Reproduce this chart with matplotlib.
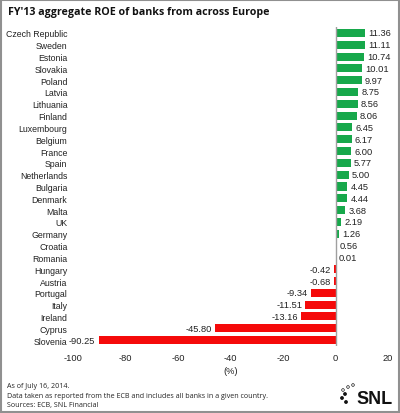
import matplotlib
matplotlib.use("Agg")
import matplotlib.pyplot as plt
from matplotlib.patches import Rectangle, Circle

countries = ["Czech Republic", "Sweden", "Estonia", "Slovakia", "Poland", "Latvia",
             "Lithuania", "Finland", "Luxembourg", "Belgium", "France", "Spain",
             "Netherlands", "Bulgaria", "Denmark", "Malta", "UK", "Germany",
             "Croatia", "Romania", "Hungary", "Austria", "Portugal", "Italy",
             "Ireland", "Cyprus", "Slovenia"]
roe = [11.36, 11.11, 10.74, 10.01, 9.97, 8.75, 8.56, 8.06, 6.45, 6.17, 6.00, 5.77,
       5.00, 4.45, 4.44, 3.68, 2.19, 1.26, 0.56, 0.01, -0.42, -0.68, -9.34, -11.51,
       -13.16, -45.80, -90.25]
x_ticks = [-100, -80, -60, -40, -20, 0, 20]

green = "#17a84b"
red = "#f50a0a"

plt.rcParams["font.family"] = ["Liberation Sans", "DejaVu Sans"]

fig = plt.figure(figsize=(4.0, 4.14), dpi=100)
ax = fig.add_axes([73 / 400, 1 - 347 / 414, (388 - 73) / 400, (347 - 28) / 414])

n = len(countries)
ypos = [n - 1 - i for i in range(n)]
colors = [green if v >= 0 else red for v in roe]
ax.barh(ypos, roe, height=0.68, color=colors, zorder=2)
ax.axvline(0, color="#a0a0a0", lw=1, zorder=3)

# value labels at the bar ends
for y, v in zip(ypos, roe):
    if v >= 0:
        ax.text(v + 1.2, y, f"{v:.2f}", va="center", ha="left", fontsize=6.7, color="#222222")
    else:
        ax.text(v - 1.2, y, f"{v:.2f}", va="center", ha="right", fontsize=6.7, color="#222222")

ax.set_xlim(-100, 20)
ax.set_ylim(-0.5, n - 0.5)
ax.set_yticks(ypos)
ax.set_yticklabels(countries, fontsize=6.3, color="#222222")
ax.set_xticks(x_ticks)
ax.set_xticklabels([str(t) for t in x_ticks], fontsize=6.7, color="#222222")
ax.tick_params(axis="both", length=0)
ax.tick_params(axis="y", pad=4)
ax.tick_params(axis="x", pad=5)
for s in ax.spines.values():
    s.set_visible(False)
ax.set_xlabel("(%)", fontsize=6.7, color="#222222", labelpad=3)

fig.text(8 / 400, 1 - 13 / 414, "FY'13 aggregate ROE of banks from across Europe",
         fontsize=7.7, fontweight="bold", family="Open Sans", va="center", ha="left",
         color="#111111")

notes = ["As of July 16, 2014.",
         "Data taken as reported from the ECB and includes all banks in a given country.",
         "Sources: ECB, SNL Financial"]
for i, line in enumerate(notes):
    fig.text(7 / 400, 1 - (387 + i * 9.3) / 414, line, fontsize=5.1, family="Open Sans",
             va="center", ha="left", color="#222222")

# SNL logo
fig.text(393 / 400, 1 - 400 / 414, "SNL", fontsize=13, fontweight="bold",
         family="Liberation Sans", va="center", ha="right", color="#111111")
for (cx, cy, r, filled) in [(345, 395, 1.5, True), (342, 399, 1.5, True), (346, 403, 1.5, True),
                            (343, 391, 1.3, False), (348, 388, 1.3, False), (353, 386, 1.3, False)]:
    fig.patches.append(Circle((cx / 400, 1 - cy / 414), r / 400, transform=fig.transFigure,
                              facecolor="#111111" if filled else "white",
                              edgecolor="#111111", lw=0.5))

fig.patches.append(Rectangle((0.002, 0.002), 0.996, 0.996, transform=fig.transFigure,
                             fill=False, edgecolor="#909090", lw=1.5))

fig.savefig("out.png", dpi=100)
